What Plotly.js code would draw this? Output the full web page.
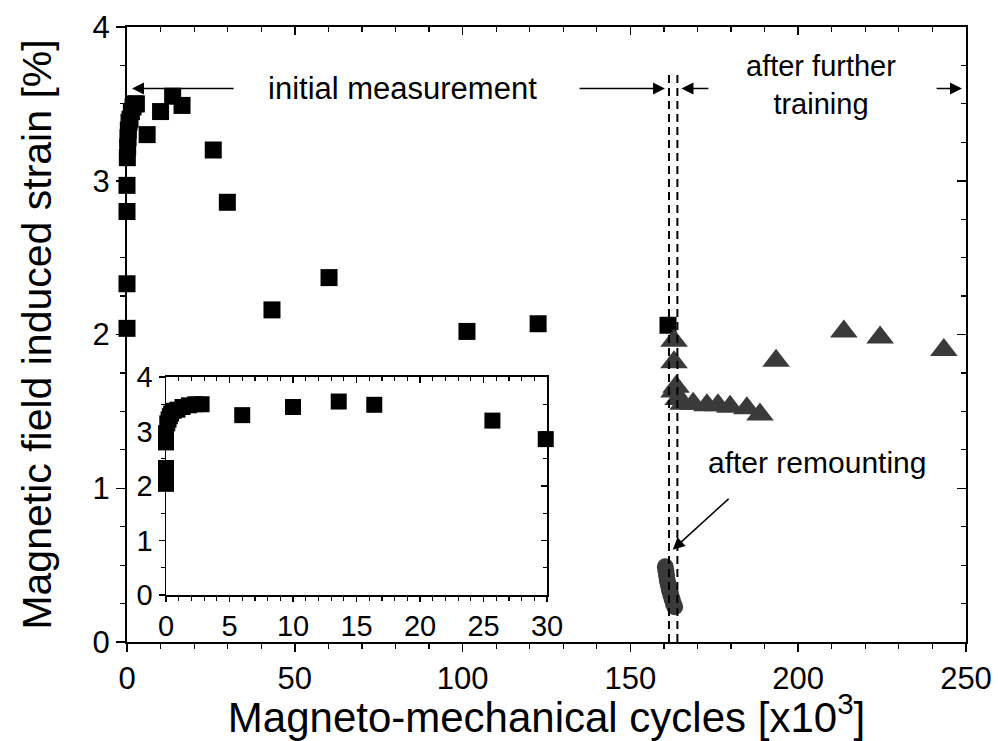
<!DOCTYPE html>
<html>
<head>
<meta charset="utf-8">
<script src="https://cdn.plot.ly/plotly-3.0.1.min.js"></script>
<style>html,body{margin:0;padding:0;background:#fff;}#chart{width:998px;height:741px;}</style>
</head>
<body>
<div id="chart"></div>
<script>
// ---- data (cycles in units of 10^3, strain in %) ----
const squareX = [0, 0, 0, 0, 0.1, 0.2, 0.3, 0.4, 0.6, 0.9, 1.3, 1.8, 2.3, 2.8, 6.0, 10.0, 13.6, 16.4, 25.7, 29.9, 43.2, 60.2, 101.3, 122.5, 161.2];
const squareY = [2.04, 2.33, 2.80, 2.97, 3.15, 3.22, 3.28, 3.33, 3.38, 3.40, 3.45, 3.48, 3.50, 3.50, 3.30, 3.45, 3.55, 3.49, 3.20, 2.86, 2.16, 2.37, 2.02, 2.07, 2.06];
const triangleX = [163.0, 163.0, 163.0, 163.6, 164.2, 165.7, 168.7, 172.8, 176.1, 179.7, 184.7, 188.6, 193.4, 213.6, 224.4, 243.4];
const triangleY = [1.96, 1.82, 1.63, 1.66, 1.58, 1.55, 1.55, 1.54, 1.54, 1.53, 1.52, 1.48, 1.83, 2.02, 1.98, 1.90];
const circleX = [160.4, 160.6, 160.8, 161.0, 161.3, 161.6, 162.0, 162.4, 162.8, 163.2];
const circleY = [0.49, 0.46, 0.43, 0.40, 0.37, 0.34, 0.31, 0.28, 0.25, 0.23];
const insetMaxX = 30;
const insetX = squareX.filter(v => v <= insetMaxX);
const insetY = squareY.slice(0, insetX.length);
const boundaryX = [161.5, 164.0];

const FONT = 'Liberation Sans, Arial, Helvetica, sans-serif';
const BLACK = '#000';
const GREY = '#3a3a3a';

const traces = [
  {x: squareX, y: squareY, type: 'scatter', mode: 'markers', xaxis: 'x', yaxis: 'y',
   marker: {symbol: 'square', size: 17, color: BLACK}, cliponaxis: false, showlegend: false},
  {x: triangleX, y: triangleY, type: 'scatter', mode: 'markers', xaxis: 'x', yaxis: 'y',
   marker: {symbol: 'triangle-up', size: 24, color: GREY}, cliponaxis: false, showlegend: false},
  {x: circleX, y: circleY, type: 'scatter', mode: 'markers', xaxis: 'x', yaxis: 'y',
   marker: {symbol: 'circle', size: 17, color: GREY}, cliponaxis: false, showlegend: false},
  {x: insetX, y: insetY, type: 'scatter', mode: 'markers', xaxis: 'x2', yaxis: 'y2',
   marker: {symbol: 'square', size: 16, color: BLACK}, cliponaxis: false, showlegend: false},
  // empty traces to activate mirror axes (top/right inward ticks)
  {x: [], y: [], type: 'scatter', xaxis: 'x3', yaxis: 'y', showlegend: false, hoverinfo: 'skip'},
  {x: [], y: [], type: 'scatter', xaxis: 'x', yaxis: 'y3', showlegend: false, hoverinfo: 'skip'},
  {x: [], y: [], type: 'scatter', xaxis: 'x4', yaxis: 'y2', showlegend: false, hoverinfo: 'skip'},
  {x: [], y: [], type: 'scatter', xaxis: 'x2', yaxis: 'y4', showlegend: false, hoverinfo: 'skip'}
];

function baseAxis(extra) {
  return Object.assign({
    showgrid: false, zeroline: false, showline: true, linecolor: BLACK, linewidth: 2,
    tickcolor: BLACK, tickwidth: 1.5, tickfont: {family: FONT, size: 31, color: BLACK}, fixedrange: true
  }, extra);
}
const insetTickFont = {family: FONT, size: 29, color: BLACK};

const insetDomX = [0.0465, 0.5006];
const insetDomY = [0.0764, 0.4309];

const layout = {
  width: 998, height: 741,
  margin: {l: 127, r: 32, t: 27, b: 99, pad: 0},
  paper_bgcolor: '#fff', plot_bgcolor: '#fff',
  font: {family: FONT, color: BLACK},
  showlegend: false,
  xaxis: baseAxis({domain: [0, 1], anchor: 'y', range: [0, 250], tick0: 0, dtick: 50,
    ticks: 'outside', ticklen: 8,
    minor: {dtick: 10, ticks: 'outside', ticklen: 5, tickwidth: 1.2, tickcolor: BLACK},
    title: {text: 'Magneto-mechanical cycles [x10<sup>3</sup>]', font: {family: FONT, size: 42, color: BLACK}, standoff: 0}}),
  yaxis: baseAxis({domain: [0, 1], anchor: 'x', range: [0, 4], tick0: 0, dtick: 1,
    ticks: 'outside', ticklen: 9,
    minor: {dtick: 0.25, ticks: 'outside', ticklen: 5, tickwidth: 1.2, tickcolor: BLACK},
    title: {text: 'Magnetic field induced strain [%]', font: {family: FONT, size: 41, color: BLACK}, standoff: 28}}),
  xaxis3: baseAxis({overlaying: 'x', side: 'top', anchor: 'y', range: [0, 250], tick0: 0, dtick: 50,
    ticks: 'inside', ticklen: 8, showticklabels: false,
    minor: {dtick: 10, ticks: 'inside', ticklen: 5, tickwidth: 1.2, tickcolor: BLACK}}),
  yaxis3: baseAxis({overlaying: 'y', side: 'right', anchor: 'x', range: [0, 4], tick0: 0, dtick: 1,
    ticks: 'inside', ticklen: 9, showticklabels: false,
    minor: {dtick: 0.25, ticks: 'inside', ticklen: 5, tickwidth: 1.2, tickcolor: BLACK}}),
  xaxis2: baseAxis({domain: insetDomX, anchor: 'y2', range: [0, 30], tick0: 0, dtick: 5,
    ticks: 'outside', ticklen: 5, linewidth: 1.5, tickfont: insetTickFont,
    minor: {dtick: 1, ticks: 'outside', ticklen: 4, tickwidth: 1.2, tickcolor: BLACK}}),
  yaxis2: baseAxis({domain: insetDomY, anchor: 'x2', range: [0, 4], tick0: 0, dtick: 1,
    ticks: 'outside', ticklen: 6, linewidth: 1.5, tickfont: insetTickFont,
    minor: {dtick: 0.5, ticks: 'outside', ticklen: 4, tickwidth: 1.2, tickcolor: BLACK}}),
  xaxis4: baseAxis({overlaying: 'x2', side: 'top', anchor: 'y2', range: [0, 30], tick0: 0, dtick: 5,
    ticks: 'inside', ticklen: 6, linewidth: 1.5, showticklabels: false,
    minor: {dtick: 1, ticks: 'inside', ticklen: 4, tickwidth: 1.2, tickcolor: BLACK}}),
  yaxis4: baseAxis({overlaying: 'y2', side: 'right', anchor: 'x2', range: [0, 4], tick0: 0, dtick: 1,
    ticks: 'inside', ticklen: 6, linewidth: 1.5, showticklabels: false,
    minor: {dtick: 0.5, ticks: 'inside', ticklen: 4, tickwidth: 1.2, tickcolor: BLACK}}),
  shapes: [
    {type: 'line', xref: 'x', yref: 'y', x0: boundaryX[0], x1: boundaryX[0], y0: 0, y1: 3.72,
     line: {color: BLACK, width: 2, dash: '8px,5px'}},
    {type: 'line', xref: 'x', yref: 'y', x0: boundaryX[1], x1: boundaryX[1], y0: 0, y1: 3.72,
     line: {color: BLACK, width: 2, dash: '8px,5px'}}
  ],
  annotations: [
    {text: 'initial measurement', x: 82, y: 3.6, xref: 'x', yref: 'y', showarrow: false,
     font: {family: FONT, size: 31, color: BLACK}},
    {text: '', x: 1.5, y: 3.6, ax: 32.2, ay: 3.6, axref: 'x', ayref: 'y', xref: 'x', yref: 'y',
     showarrow: true, arrowhead: 2, arrowsize: 1.6, arrowwidth: 1.5, arrowcolor: BLACK},
    {text: '', x: 160.3, y: 3.6, ax: 134.4, ay: 3.6, axref: 'x', ayref: 'y', xref: 'x', yref: 'y',
     showarrow: true, arrowhead: 2, arrowsize: 1.6, arrowwidth: 1.5, arrowcolor: BLACK},
    {text: '', x: 165.2, y: 3.6, ax: 173.7, ay: 3.6, axref: 'x', ayref: 'y', xref: 'x', yref: 'y',
     showarrow: true, arrowhead: 2, arrowsize: 1.6, arrowwidth: 1.5, arrowcolor: BLACK},
    {text: '', x: 248.8, y: 3.6, ax: 240.8, ay: 3.6, axref: 'x', ayref: 'y', xref: 'x', yref: 'y',
     showarrow: true, arrowhead: 2, arrowsize: 1.6, arrowwidth: 1.5, arrowcolor: BLACK},
    {text: 'after further<br>training', x: 206.8, y: 3.62, xref: 'x', yref: 'y', showarrow: false,
     align: 'center', font: {family: FONT, size: 29, color: BLACK}},
    {text: 'after remounting', x: 205.5, y: 1.17, xref: 'x', yref: 'y', showarrow: false,
     font: {family: FONT, size: 30, color: BLACK}},
    {text: '', x: 162.6, y: 0.6, ax: 179.7, ay: 0.94, axref: 'x', ayref: 'y', xref: 'x', yref: 'y',
     showarrow: true, arrowhead: 2, arrowsize: 1.6, arrowwidth: 1.5, arrowcolor: BLACK}
  ]
};

Plotly.newPlot('chart', traces, layout, {displayModeBar: false, staticPlot: true});
</script>
</body>
</html>
